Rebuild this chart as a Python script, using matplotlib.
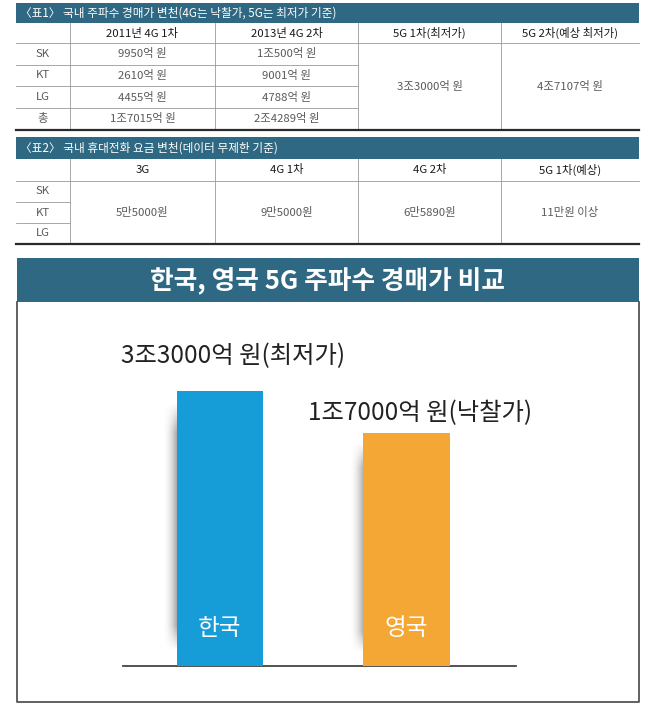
import numpy as np
import matplotlib
matplotlib.use("Agg")
import matplotlib.pyplot as plt
from matplotlib.patches import Rectangle

plt.rcParams['font.family'] = ['Noto Sans CJK KR', 'DejaVu Sans']

# ---------------- data ----------------
t1_title = "〈표1〉 국내 주파수 경매가 변천(4G는 낙찰가, 5G는 최저가 기준)"
t1_cols = ["2011년 4G 1차", "2013년 4G 2차", "5G 1차(최저가)", "5G 2차(예상 최저가)"]
t1_rows = ["SK", "KT", "LG", "총"]
t1_4g1 = ["9950억 원", "2610억 원", "4455억 원", "1조7015억 원"]
t1_4g2 = ["1조500억 원", "9001억 원", "4788억 원", "2조4289억 원"]
t1_5g1 = "3조3000억 원"
t1_5g2 = "4조7107억 원"

t2_title = "〈표2〉 국내 휴대전화 요금 변천(데이터 무제한 기준)"
t2_cols = ["3G", "4G 1차", "4G 2차", "5G 1차(예상)"]
t2_rows = ["SK", "KT", "LG"]
t2_vals = ["5만5000원", "9만5000원", "6만5890원", "11만원 이상"]

chart_title = "한국, 영국 5G 주파수 경매가 비교"
countries = ["한국", "영국"]
values = [33000, 17000]          # 억 원
value_labels = ["3조3000억 원(최저가)", "1조7000억 원(낙찰가)"]
bar_colors = ["#169dd8", "#f5a736"]

# ---------------- style ----------------
TEAL = "#2f6882"
GRID = "#9a9a9a"
CELL = "#5a5a5a"

fig = plt.figure(figsize=(6.5, 7.05), dpi=100)
bg = fig.add_axes([0, 0, 1, 1])
bg.set_xlim(0, 650)
bg.set_ylim(705, 0)
bg.axis('off')

L, R = 16, 639
vx = [70, 215, 358, 501]
col_edges = [L] + vx + [R]
col_cent = [(col_edges[i] + col_edges[i + 1]) / 2 for i in range(len(col_edges) - 1)]


def table_frame(top, bar_bot, head_bot, row_edges, row_line_right, title):
    bg.add_patch(Rectangle((L, top), R - L, bar_bot - top, color=TEAL, lw=0))
    bg.text(L + 4, (top + bar_bot) / 2 + 0.5, title, color='white', fontsize=8.4,
            ha='left', va='center')
    bottom = row_edges[-1]
    for x in vx:
        bg.plot([x, x], [bar_bot, bottom], color=GRID, lw=0.6)
    bg.plot([L, R], [head_bot, head_bot], color=GRID, lw=0.6)
    for y in row_edges[1:-1]:
        bg.plot([L, row_line_right], [y, y], color=GRID, lw=0.6)
    bg.plot([L, R], [bottom, bottom], color='#2a2a2a', lw=1.6)


# table 1
t1_re = [43, 65, 86, 108, 129.5]
table_frame(3, 23, 43, t1_re, 358, t1_title)
for c, txt in zip(col_cent[1:], t1_cols):
    bg.text(c, 33, txt, fontsize=8.2, color='#1a1a1a', ha='center', va='center')
for i, r in enumerate(t1_rows):
    yc = (t1_re[i] + t1_re[i + 1]) / 2
    bg.text(col_cent[0], yc, r, fontsize=8.2, color=CELL, ha='center', va='center')
    bg.text(col_cent[1], yc, t1_4g1[i], fontsize=8.2, color=CELL, ha='center', va='center')
    bg.text(col_cent[2], yc, t1_4g2[i], fontsize=8.2, color=CELL, ha='center', va='center')
bg.text(col_cent[3], (43 + 129.5) / 2, t1_5g1, fontsize=8.2, color=CELL, ha='center', va='center')
bg.text(col_cent[4], (43 + 129.5) / 2, t1_5g2, fontsize=8.2, color=CELL, ha='center', va='center')

# table 2
t2_re = [181, 202, 223, 244]
table_frame(137, 159, 181, t2_re, 70, t2_title)
for c, txt in zip(col_cent[1:], t2_cols):
    bg.text(c, 170, txt, fontsize=8.2, color='#1a1a1a', ha='center', va='center')
for i, r in enumerate(t2_rows):
    yc = (t2_re[i] + t2_re[i + 1]) / 2
    bg.text(col_cent[0], yc, r, fontsize=8.2, color=CELL, ha='center', va='center')
for c, txt in zip(col_cent[1:], t2_vals):
    bg.text(c, (181 + 244) / 2, txt, fontsize=8.2, color=CELL, ha='center', va='center')

# chart box
bg.add_patch(Rectangle((16.5, 258), 622.5, 44, color=TEAL, lw=0))
bg.text(327.5, 281, chart_title, color='white', fontsize=18.5, weight='bold',
        ha='center', va='center')
bg.plot([16.5, 16.5, 639, 639], [302, 702, 702, 302], color='#555555', lw=1.3)

# ---------------- bar chart ----------------
ax = fig.add_axes([123 / 650, (705 - 666) / 705, (516 - 123) / 650, (666 - 310) / 705])
ax.patch.set_alpha(0)
floor = -72000
ax.set_xlim(-0.52, 1.587)
ax.set_ylim(floor, 64000)
for s in ['top', 'right', 'left']:
    ax.spines[s].set_visible(False)
ax.spines['bottom'].set_color('#444444')
ax.spines['bottom'].set_linewidth(1.3)
ax.set_xticks([])
ax.set_yticks([])

x = np.arange(len(values))
w = 0.462
heights = [v - floor for v in values]

# soft shadows on the left edge of each bar
for xi, v in zip(x, values):
    h = v - floor
    grad_x = np.linspace(0, 1, 30) ** 2
    yy = np.linspace(0, 1, 60)
    fade = np.clip(np.minimum(yy / 0.1, (1 - yy) / 0.12), 0, 1)
    alpha = 0.45 * np.outer(fade, grad_x)
    rgba = np.zeros((60, 30, 4))
    rgba[..., :3] = 0.25
    rgba[..., 3] = alpha
    ax.imshow(rgba, extent=(xi - w / 2 - 0.08, xi - w / 2, floor + h * 0.05, floor + h * 0.96),
              origin='lower', aspect='auto', zorder=2, interpolation='bilinear')

ax.bar(x, heights, width=w, bottom=floor, color=bar_colors, zorder=3)

label_dy = [25, 14.5]
for xi, v, lab, dy in zip(x, values, value_labels, label_dy):
    ax.annotate(lab, xy=(xi - w / 2, v), xytext=(-40, dy), textcoords='offset points',
                ha='left', va='center', fontsize=17.5, color='#222222', annotation_clip=False)
for xi, name in zip(x, countries):
    ax.annotate(name, xy=(xi, floor), xytext=(0, 27), textcoords='offset points',
                ha='center', va='center', fontsize=17, color='white', zorder=4)

ax.set_xlim(-0.52, 1.587)
ax.set_ylim(floor, 64000)

fig.savefig("out.png", dpi=100)
